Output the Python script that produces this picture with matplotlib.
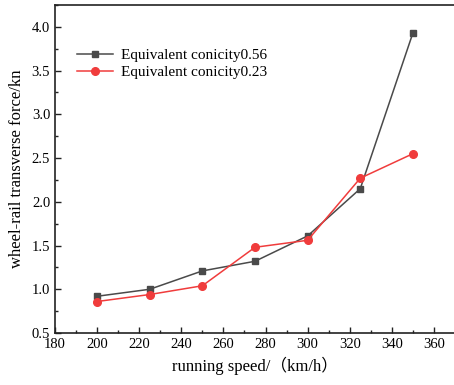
import matplotlib
matplotlib.use("Agg")
import matplotlib.pyplot as plt
from matplotlib.ticker import MultipleLocator, FormatStrFormatter

plt.rcParams['font.family'] = ['Liberation Serif', 'Noto Sans CJK SC', 'DejaVu Sans']

speed = [200, 225, 250, 275, 300, 325, 350]
force_056 = [0.92, 1.00, 1.21, 1.32, 1.61, 2.15, 3.93]
force_023 = [0.86, 0.94, 1.04, 1.48, 1.56, 2.27, 2.55]
labels = ["Equivalent conicity0.56", "Equivalent conicity0.23"]

fig = plt.figure(figsize=(4.54, 3.85), dpi=100)
ax = fig.add_axes([55 / 454, 52 / 385, 400 / 454, 328 / 385])

ax.plot(speed, force_056, color="#4a4a4a", marker="s", markersize=4.8,
        linewidth=1.1, label=labels[0])
ax.plot(speed, force_023, color="#f03c3c", marker="o", markersize=5.5,
        linewidth=1.1, label=labels[1])

ax.set_xlim(180, 370)
ax.set_ylim(0.5, 4.25)
ax.xaxis.set_major_locator(MultipleLocator(20))
ax.xaxis.set_minor_locator(MultipleLocator(10))
ax.yaxis.set_major_locator(MultipleLocator(0.5))
ax.yaxis.set_minor_locator(MultipleLocator(0.25))
ax.yaxis.set_major_formatter(FormatStrFormatter("%.1f"))
ax.tick_params(which="both", direction="in", labelsize=10.5, color="#222222")
ax.tick_params(which="major", length=4.5, width=1)
ax.tick_params(which="minor", length=2.5, width=1)
for s in ax.spines.values():
    s.set_linewidth(1.2)
    s.set_color("#222222")

ax.set_xlabel("running speed/（km/h）", fontsize=12, labelpad=4)
ax.set_ylabel("wheel-rail transverse force/kn", fontsize=12, labelpad=5)

ax.legend(loc="upper left", bbox_to_anchor=(0.02, 0.91), frameon=False,
          fontsize=11, handlelength=2.4, handletextpad=0.5, labelspacing=0.25)

fig.savefig("out.png", dpi=100)
